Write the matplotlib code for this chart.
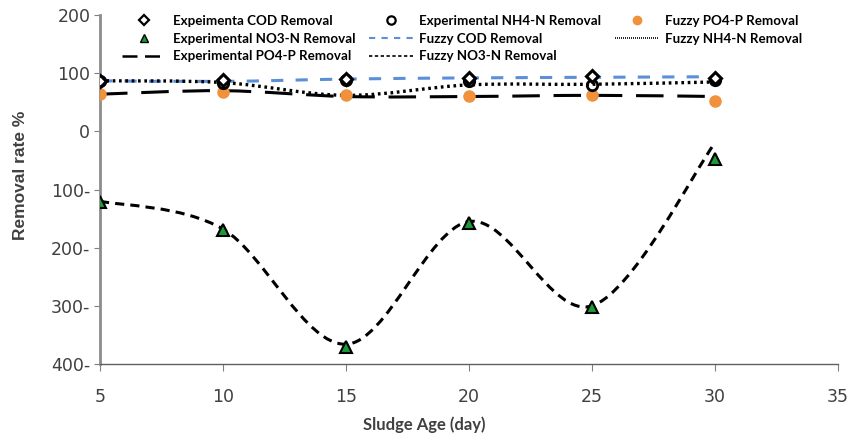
import numpy as np
import matplotlib
matplotlib.use("Agg")
import matplotlib.pyplot as plt
from matplotlib.path import Path
from matplotlib.patches import PathPatch
from matplotlib.lines import Line2D

sludge_age = [5, 10, 15, 20, 25, 30]

exp_cod = [87, 88, 90, 92, 95, 92]
exp_nh4 = [86, 84, 88, 87, 80, 88]
exp_no3 = [-122, -170, -370, -158, -302, -47]
exp_po4 = [64, 70, 60, 60, 62, 60]

fuzzy_cod = [87, 86, 90, 92, 93, 94]
fuzzy_nh4 = [87, 84, 62, 80, 81, 85]
fuzzy_no3 = [-120, -168, -366, -155, -300, -20]
fuzzy_po4 = [65, 68, 62, 61, 62, 52]

y_ticks = [200, 100, 0, -100, -200, -300, -400]
y_tick_labels = ["200", "100", "0", "100-", "200-", "300-", "400-"]
x_ticks = [5, 10, 15, 20, 25, 30, 35]


def smooth_path(xs, ys):
    # excel-style smoothed line: catmull-rom segments as cubic beziers
    pts = np.column_stack([xs, ys]).astype(float)
    ext = np.vstack([pts[0], pts, pts[-1]])
    verts = [pts[0]]
    codes = [Path.MOVETO]
    for i in range(1, len(ext) - 2):
        p0, p1, p2, p3 = ext[i - 1], ext[i], ext[i + 1], ext[i + 2]
        verts += [p1 + (p2 - p0) / 6, p2 - (p3 - p1) / 6, p2]
        codes += [Path.CURVE4] * 3
    return Path(verts, codes)


def smooth_line(ax, xs, ys, **kw):
    patch = PathPatch(smooth_path(xs, ys), fill=False, capstyle="butt", **kw)
    ax.add_patch(patch)


fig = plt.figure(figsize=(8.52, 4.40), dpi=100)
ax = fig.add_axes([0.1174, 0.1727, 0.866, 0.793])

blue = "#5b8fd8"
orange = "#f0913c"
green = "#1a9a3a"

smooth_line(ax, sludge_age, fuzzy_cod, edgecolor=blue, lw=2.2, linestyle=(0, (4, 4)), zorder=2)
smooth_line(ax, sludge_age, exp_po4, edgecolor="black", lw=2.2, linestyle=(0, (9, 4.5)), zorder=2)
smooth_line(ax, sludge_age, fuzzy_nh4, edgecolor="black", lw=2.4, linestyle=(0, (0.8, 1.1)), zorder=3)
smooth_line(ax, sludge_age, fuzzy_no3, edgecolor="black", lw=2.2, linestyle=(0, (3, 2)), zorder=3)

ax.plot(sludge_age, fuzzy_po4, "o", color=orange, markersize=8, zorder=4)
ax.plot(sludge_age, exp_nh4, "o", mfc="none", mec="black", mew=2, markersize=7.5, zorder=5)
ax.plot(sludge_age, exp_cod, "D", mfc="white", mec="black", mew=2.2, markersize=6.5, zorder=6)
ax.plot(sludge_age, exp_no3, "^", mfc=green, mec="black", mew=1.5, markersize=8, zorder=6)

ax.set_xlim(5, 35)
ax.set_ylim(-400, 200)
ax.set_xticks(x_ticks)
ax.set_yticks(y_ticks)
ax.set_yticklabels(y_tick_labels)
ax.tick_params(axis="both", labelsize=12.5, labelcolor="#404040", color="#808080")
ax.tick_params(axis="x", length=5, pad=12)
ax.tick_params(axis="y", length=4, pad=3)
for side in ("top", "right"):
    ax.spines[side].set_visible(False)
ax.spines["left"].set_color("#8c8c8c")
ax.spines["left"].set_linewidth(2)
ax.spines["bottom"].set_color("#606060")
ax.spines["bottom"].set_linewidth(1)

ax.set_ylabel("Removal rate %", fontsize=12.5, fontweight="bold", color="#404040",
              family="Liberation Sans")
ax.yaxis.set_label_coords(-0.097, 0.54)
ax.set_xlabel("Sludge Age (day)", fontsize=12, fontweight="bold", color="#404040",
              family="Lato")
ax.xaxis.set_label_coords(0.44, -0.15)

handles = [
    Line2D([], [], ls="none", marker="D", mfc="white", mec="black", mew=1.6, ms=5),
    Line2D([], [], ls="none", marker="^", mfc=green, mec="black", mew=1, ms=6),
    Line2D([], [], color="black", lw=1.8, ls=(0, (6, 3))),
    Line2D([], [], ls="none", marker="o", mfc="none", mec="black", mew=1.6, ms=6),
    Line2D([], [], color=blue, lw=1.5, ls=(0, (3, 3))),
    Line2D([], [], color="black", lw=1.2, ls=(0, (2, 1.5))),
    Line2D([], [], ls="none", marker="o", color=orange, ms=6),
    Line2D([], [], color="black", lw=1.2, ls=(0, (0.6, 0.6))),
]
labels = [
    "Expeimenta COD Removal",
    "Experimental NO3-N Removal",
    "Experimental PO4-P Removal",
    "Experimental NH4-N Removal",
    "Fuzzy COD Removal",
    "Fuzzy NO3-N Removal",
    "Fuzzy PO4-P Removal",
    "Fuzzy NH4-N Removal",
]
ax.legend(handles, labels, ncol=3, loc="upper left",
          bbox_to_anchor=(122 / 852, 1 - 15 / 440), bbox_transform=fig.transFigure,
          frameon=False, prop={"family": "Lato", "weight": "bold", "size": 9.6},
          handlelength=3.3, handletextpad=0.5, columnspacing=1.0,
          labelspacing=0.42, borderaxespad=0, borderpad=0)

fig.savefig("out.png", dpi=100)
